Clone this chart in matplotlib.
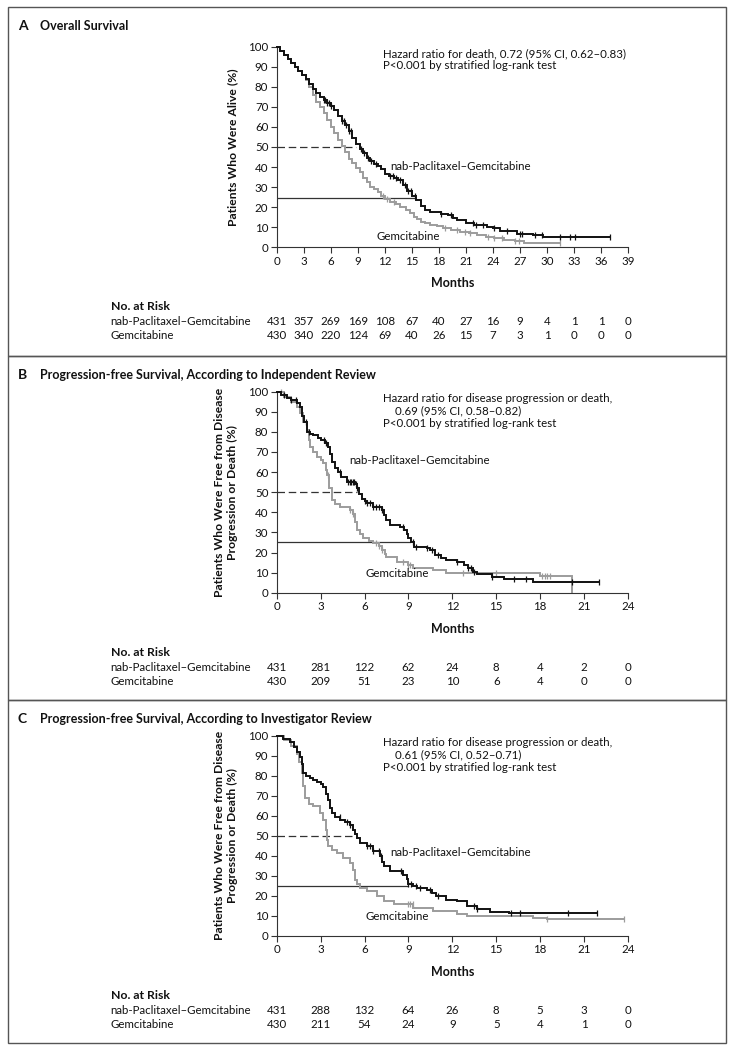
import numpy as np
import matplotlib
matplotlib.use("Agg")
import matplotlib.pyplot as plt
from matplotlib import transforms
from matplotlib.patches import Rectangle

plt.rcParams['font.family'] = ['Lato', 'DejaVu Sans']

# ---------------- DATA ----------------
# Panel A: Overall survival
A_NAB_T = [0, 0.4, 0.8, 1.2, 1.6, 2.0, 2.4, 2.8, 3.2, 3.6, 4.0, 4.4, 4.8, 5.2, 5.6, 6.0, 6.4, 6.8, 7.2, 7.6,
           8.0, 8.4, 8.8, 9.2, 9.6, 10.0, 10.4, 10.8, 11.2, 11.6, 12.0, 12.5, 13.0, 13.5, 14.0, 14.5, 15.0, 15.5,
           16.0, 16.5, 17.0, 18.2, 19.0, 19.6, 20.0, 21.0, 21.9, 23.3, 24.0, 24.8, 26.7, 28.5, 29.6, 37.0]
A_NAB_S = [100, 98, 96, 94, 92, 90, 88, 86, 84, 81.5, 79, 76.7, 75, 73.4, 72, 70.5, 68.5, 65.5, 63, 61,
           58, 54.5, 51.5, 49, 47, 44.5, 43, 41.5, 40.5, 39, 36.5, 35.5, 34.5, 33.5, 31, 28, 25.5, 23.6,
           20.5, 18.5, 17.8, 16.5, 16, 14.5, 13.6, 12, 11.2, 10, 9.5, 8.1, 6.6, 6.1, 5, 5]
A_NAB_CENS = [5.2, 5.4, 5.6, 5.8, 6.0, 7.3, 7.5, 7.7, 8.0, 8.3, 9.4, 9.7, 10.1, 10.5, 11.0, 12.6, 12.9, 13.2,
              13.7, 14.2, 14.6, 14.9, 15.3, 18.2, 19.4, 21.8, 22.1, 22.9, 24.1, 25.6, 27.0, 27.2, 28.7, 29.5,
              31.5, 32.6, 33.1, 37.0]
A_GEM_T = [0, 0.4, 0.8, 1.2, 1.6, 2.0, 2.4, 2.8, 3.2, 3.6, 4.0, 4.4, 4.8, 5.2, 5.6, 6.0, 6.4, 6.8, 7.2, 7.6,
           8.0, 8.4, 8.8, 9.2, 9.6, 10.0, 10.4, 10.8, 11.2, 11.6, 12.0, 12.6, 13.2, 13.7, 14.4, 14.8, 15.2, 15.6,
           16.0, 16.5, 17.0, 17.8, 18.5, 19.3, 20.4, 21.3, 22.2, 23.2, 24.1, 25.2, 26.5, 27.4, 31.5]
A_GEM_S = [100, 98, 96, 94, 92, 90, 88, 86, 83.5, 80, 76, 72.6, 70, 67, 63.5, 60, 57, 53.5, 50.5, 47.5,
           44, 42, 39.5, 37.5, 34.4, 32.5, 30.2, 29, 27.7, 25.5, 24, 22.8, 21.5, 20.3, 18.6, 17, 15.3, 14,
           12.8, 12, 11.2, 10.5, 9.5, 8.8, 7.8, 7, 6.1, 5.3, 4.5, 3.7, 3.2, 2.3, 2.3]
A_GEM_CENS = [11.8, 12.2, 13.0, 18.7, 20.0, 20.9, 21.5, 23.5, 24.1, 25.0, 26.5, 26.9, 31.5]

# Panel B: PFS, independent review
B_NAB_T = [0, 0.3, 0.7, 1.0, 1.37, 1.6, 1.75, 1.85, 2.05, 2.3, 2.5, 2.8, 3.0, 3.3, 3.5, 3.65, 3.8, 4.0, 4.2,
           4.4, 4.8, 5.35, 5.5, 5.65, 5.8, 6.0, 6.2, 6.6, 7.2, 7.35, 7.5, 7.75, 8.4, 8.7, 8.9, 9.0, 9.2, 9.4,
           10.25, 10.5, 10.8, 11.2, 11.6, 12.3, 12.8, 13.1, 13.4, 13.7, 14.7, 15.5, 17.5, 22.0]
B_NAB_S = [100, 98.5, 97, 96, 94.2, 92.5, 88, 85, 80, 79, 78.4, 77, 76, 74.3, 72.6, 69, 65.2, 62, 60,
           57.5, 55, 54, 52, 49, 46.5, 45.5, 44.4, 42.5, 41, 38.5, 36, 33.7, 32.5, 31, 29, 27, 25, 22.9,
           22, 21, 19, 17.5, 16.3, 15.4, 14, 12.5, 10.4, 9.3, 8, 6.6, 5.5, 5.5]
B_NAB_CENS = [0.5, 1.0, 1.3, 2.0, 2.2, 3.2, 3.4, 4.3, 4.9, 5.0, 5.1, 5.2, 5.3, 5.4, 5.5, 6.0, 6.2, 6.4, 6.6,
              6.8, 7.0, 7.2, 8.6, 9.3, 9.5, 10.3, 10.6, 11.0, 12.3, 13.1, 13.3, 13.5, 14.7, 16.2, 17.0, 20.2, 22.0]
B_GEM_T = [0, 0.5, 1.0, 1.37, 1.6, 1.8, 2.05, 2.2, 2.3, 2.5, 2.73, 3.0, 3.19, 3.35, 3.45, 3.6, 3.76, 4.0,
           4.33, 5.0, 5.2, 5.35, 5.47, 5.7, 5.92, 6.3, 6.6, 7.0, 7.2, 7.4, 7.5, 8.2, 9.0, 9.34, 10.7, 11.6,
           15.3, 18.0, 20.2]
B_GEM_S = [100, 97.5, 95, 92.5, 89.2, 85, 81, 76, 72.6, 70, 67.7, 66, 64.3, 61, 58.5, 52, 46.1, 44,
           42.8, 41.1, 39, 35, 31.2, 29, 27, 25.5, 24.5, 23, 21.2, 19.5, 17.9, 15.4, 13.8, 12.1, 11.3, 9.6,
           9.6, 8.3, 0]
B_GEM_CENS = [0.3, 3.5, 5.0, 5.2, 6.8, 7.0, 7.2, 8.6, 9.0, 9.1, 12.7, 15.0, 18.1, 18.3, 18.5, 18.7]

# Panel C: PFS, investigator review
C_NAB_T = [0, 0.4, 0.9, 1.2, 1.37, 1.6, 1.7, 1.8, 2.0, 2.28, 2.5, 2.73, 3.0, 3.19, 3.35, 3.53, 3.65, 3.76,
           4.0, 4.33, 4.7, 5.0, 5.24, 5.35, 5.47, 5.7, 6.15, 6.6, 7.06, 7.2, 7.3, 7.75, 8.65, 8.9, 9.0, 9.3,
           9.57, 10.25, 10.6, 10.9, 11.6, 12.3, 13.0, 13.7, 14.6, 15.9, 21.9]
C_NAB_S = [100, 98.5, 97, 94.5, 92, 89.5, 86, 81.3, 80, 78.8, 78, 77.1, 76, 74.6, 71, 68, 64, 61.4,
           59.5, 58, 57, 55.6, 53.1, 51, 48.9, 46.4, 44.8, 42.3, 39.8, 37, 34.8, 32.3, 30.7, 28.5, 26, 25,
           24.2, 23.2, 21.5, 19.9, 18.2, 17.4, 14.9, 13.3, 11.9, 11.6, 11.3]
C_NAB_CENS = [4.3, 4.8, 5.0, 6.2, 6.4, 6.6, 7.0, 7.1, 8.5, 9.0, 9.2, 9.5, 9.8, 10.5, 11.0, 13.5, 13.7,
              16.0, 16.6, 19.9, 21.9]
C_GEM_T = [0, 0.5, 1.0, 1.37, 1.55, 1.7, 1.82, 1.94, 2.2, 2.5, 2.96, 3.19, 3.35, 3.45, 3.53, 3.8, 4.1,
           4.56, 5.0, 5.2, 5.35, 5.5, 5.7, 6.15, 6.83, 7.3, 8.0, 9.34, 10.7, 12.3, 13.0, 16.2, 17.5, 18.5, 23.7]
C_GEM_S = [100, 98, 95, 91, 87, 81.3, 75, 68.8, 66, 64.7, 61.4, 58, 53, 48, 44.8, 43, 41.5,
           39, 36.5, 33, 28.2, 26, 24.1, 22.4, 19.9, 17.4, 15.8, 14.1, 12.4, 10.8, 10, 10, 9.1, 8.6, 8.3]
C_GEM_CENS = [9.0, 9.1, 9.3, 18.5, 23.7]

# Median reference lines: (y level, x end)
A_MED_LINES = [(50, 8.8, 'dashed'), (24.5, 15.2, 'solid')]
B_MED_LINES = [(50, 5.5, 'dashed'), (25, 9.1, 'solid')]
C_MED_LINES = [(50, 5.3, 'dashed'), (25, 9.0, 'solid')]

# Risk tables
A_RISK_T = [0, 3, 6, 9, 12, 15, 18, 21, 24, 27, 30, 33, 36, 39]
A_RISK_NAB = [431, 357, 269, 169, 108, 67, 40, 27, 16, 9, 4, 1, 1, 0]
A_RISK_GEM = [430, 340, 220, 124, 69, 40, 26, 15, 7, 3, 1, 0, 0, 0]
B_RISK_T = [0, 3, 6, 9, 12, 15, 18, 21, 24]
B_RISK_NAB = [431, 281, 122, 62, 24, 8, 4, 2, 0]
B_RISK_GEM = [430, 209, 51, 23, 10, 6, 4, 0, 0]
C_RISK_T = [0, 3, 6, 9, 12, 15, 18, 21, 24]
C_RISK_NAB = [431, 288, 132, 64, 26, 8, 5, 3, 0]
C_RISK_GEM = [430, 211, 54, 24, 9, 5, 4, 1, 0]

A_XTICKS = list(range(0, 40, 3))
BC_XTICKS = list(range(0, 25, 3))
YTICKS = list(range(0, 101, 10))

NAB_LABEL = "nab-Paclitaxel\u2013Gemcitabine"
GEM_LABEL = "Gemcitabine"

# ---------------- LAYOUT ----------------
W, H = 734, 1050
fig = plt.figure(figsize=(W / 100, H / 100), dpi=100)


def fx(px):
    return px / W


def fy(py):
    return 1 - py / H


BLACK = '#111111'
GRAY = '#9c9c9c'
AXC = '#333333'
FS = 8.3


def km_at(times, T, S):
    T = np.asarray(T)
    S = np.asarray(S)
    idx = np.searchsorted(T, times, side='right') - 1
    idx = np.clip(idx, 0, len(S) - 1)
    return S[idx]


panels = [
    dict(letter='A', title='Overall Survival', box=(7, 356), top=46.7, bottom=247.3, xmax=39, xticks=A_XTICKS,
         nab=(A_NAB_T, A_NAB_S, A_NAB_CENS), gem=(A_GEM_T, A_GEM_S, A_GEM_CENS), med=A_MED_LINES,
         ylabel='Patients Who Were Alive (%)', ylab_x=233,
         ann=["Hazard ratio for death, 0.72 (95% CI, 0.62\u20130.83)",
              "P<0.001 by stratified log-rank test"],
         nab_lab=(390, 166.7), gem_lab=(376.7, 236),
         risk=(A_RISK_T, A_RISK_NAB, A_RISK_GEM)),
    dict(letter='B', title='Progression-free Survival, According to Independent Review', box=(356, 700),
         top=391.7, bottom=592.7, xmax=24, xticks=BC_XTICKS,
         nab=(B_NAB_T, B_NAB_S, B_NAB_CENS), gem=(B_GEM_T, B_GEM_S, B_GEM_CENS), med=B_MED_LINES,
         ylabel='Patients Who Were Free from Disease\nProgression or Death (%)', ylab_x=226,
         ann=["Hazard ratio for disease progression or death,",
              "    0.69 (95% CI, 0.58\u20130.82)",
              "P<0.001 by stratified log-rank test"],
         nab_lab=(349, 461), gem_lab=(365, 573.3),
         risk=(B_RISK_T, B_RISK_NAB, B_RISK_GEM)),
    dict(letter='C', title='Progression-free Survival, According to Investigator Review', box=(700, 1043),
         top=735.7, bottom=936, xmax=24, xticks=BC_XTICKS,
         nab=(C_NAB_T, C_NAB_S, C_NAB_CENS), gem=(C_GEM_T, C_GEM_S, C_GEM_CENS), med=C_MED_LINES,
         ylabel='Patients Who Were Free from Disease\nProgression or Death (%)', ylab_x=226,
         ann=["Hazard ratio for disease progression or death,",
              "    0.61 (95% CI, 0.52\u20130.71)",
              "P<0.001 by stratified log-rank test"],
         nab_lab=(390, 852.3), gem_lab=(365, 916.7),
         risk=(C_RISK_T, C_RISK_NAB, C_RISK_GEM)),
]

AX_L, AX_R = 276.7, 628.0

for p in panels:
    # panel frame
    y0, y1 = p['box']
    fig.patches.append(Rectangle((fx(8), fy(y1)), fx(726) - fx(8), fy(y0) - fy(y1),
                                 transform=fig.transFigure, fill=False, edgecolor='#555555', lw=1.0))
    ty = y0 + 19
    fig.text(fx(18), fy(ty), p['letter'], fontsize=10, fontweight='bold', va='center', ha='left', color=BLACK)
    fig.text(fx(40.5), fy(ty), p['title'], fontsize=9, fontweight='bold', va='center', ha='left', color=BLACK)

    ax = fig.add_axes([fx(AX_L), fy(p['bottom']), fx(AX_R) - fx(AX_L), (p['bottom'] - p['top']) / H])
    ax.set_xlim(0, p['xmax'])
    ax.set_ylim(0, 100)
    for s in ['top', 'right']:
        ax.spines[s].set_visible(False)
    for s in ['left', 'bottom']:
        ax.spines[s].set_color(AXC)
        ax.spines[s].set_linewidth(0.8)
    ax.set_xticks(p['xticks'])
    ax.set_yticks(YTICKS)
    ax.tick_params(direction='out', length=4, width=0.8, color=AXC, labelsize=FS, pad=2, labelcolor=BLACK)
    ax.patch.set_alpha(0)

    # median reference lines
    for (lev, xe, style) in p['med']:
        ax.plot([0, xe], [lev, lev], color='#333333', lw=0.9,
                linestyle=(0, (6, 3)) if style == 'dashed' else '-', zorder=1)

    # curves
    for key, col in (('gem', GRAY), ('nab', BLACK)):
        T, S, C = p[key]
        ax.plot(T, S, drawstyle='steps-post', color=col, lw=1.4, zorder=3 if key == 'nab' else 2,
                solid_joinstyle='miter', clip_on=False)
        cy = km_at(np.asarray(C), T, S)
        ax.plot(C, cy, linestyle='none', marker='|', markersize=5, markeredgewidth=0.9, color=col,
                zorder=3 if key == 'nab' else 2, clip_on=False)

    # y label
    fig.text(fx(p['ylab_x']), fy((p['top'] + p['bottom']) / 2), p['ylabel'], rotation=90, fontsize=8.7,
             fontweight='bold', ha='center', va='center', multialignment='center', linespacing=1.15,
             color=BLACK)
    # x label
    fig.text(fx((AX_L + AX_R) / 2), fy(p['bottom'] + 36), 'Months', fontsize=9, fontweight='bold',
             ha='center', va='center', color=BLACK)

    # annotation
    for i, line in enumerate(p['ann']):
        fig.text(fx(383.3), fy(p['top'] + 6.8 + 12.4 * i), line, fontsize=FS, ha='left', va='center',
                 color=BLACK)

    # curve labels
    fig.text(fx(p['nab_lab'][0]), fy(p['nab_lab'][1]), NAB_LABEL, fontsize=FS, ha='left', va='center',
             color=BLACK)
    fig.text(fx(p['gem_lab'][0]), fy(p['gem_lab'][1]), GEM_LABEL, fontsize=FS, ha='left', va='center',
             color=BLACK)

    # risk table
    b = p['bottom']
    fig.text(fx(110.7), fy(b + 59.4), 'No. at Risk', fontsize=8.8, fontweight='bold', ha='left', va='center',
             color=BLACK)
    fig.text(fx(110.7), fy(b + 74.5), NAB_LABEL, fontsize=FS, ha='left', va='center', color=BLACK)
    fig.text(fx(110.7), fy(b + 88.5), GEM_LABEL, fontsize=FS, ha='left', va='center', color=BLACK)
    tr = transforms.blended_transform_factory(ax.transData, fig.transFigure)
    RT, RN, RG = p['risk']
    for t, n in zip(RT, RN):
        ax.text(t, fy(b + 74.5), str(n), transform=tr, fontsize=FS, ha='center', va='center', color=BLACK,
                clip_on=False)
    for t, n in zip(RT, RG):
        ax.text(t, fy(b + 88.5), str(n), transform=tr, fontsize=FS, ha='center', va='center', color=BLACK,
                clip_on=False)

fig.savefig('out.png', dpi=100, facecolor='white')
